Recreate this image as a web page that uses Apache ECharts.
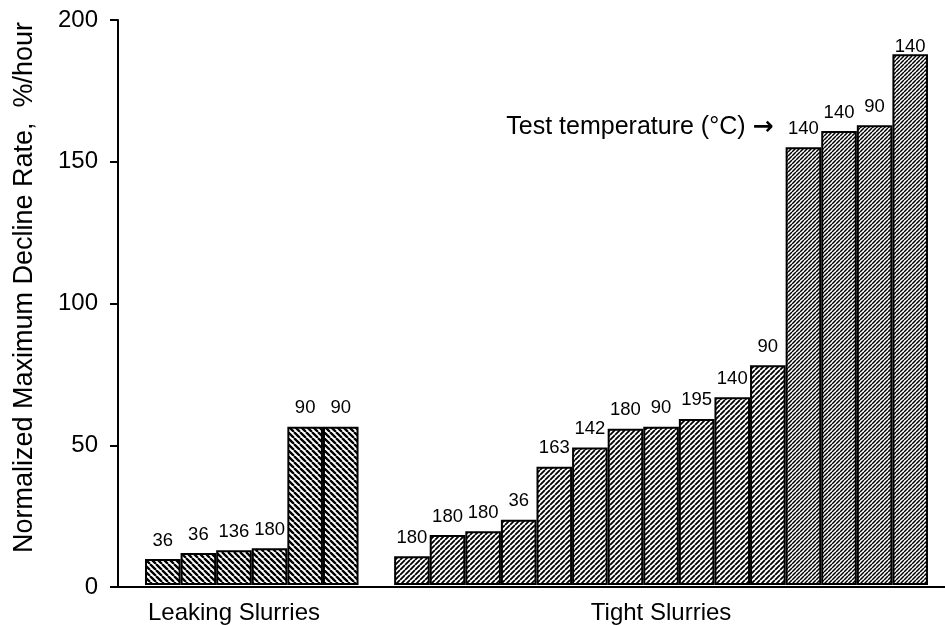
<!DOCTYPE html>
<html>
<head>
<meta charset="utf-8">
<script src="https://cdn.jsdelivr.net/npm/echarts@6/dist/echarts.min.js"></script>
<style>
  html, body { margin: 0; padding: 0; background: #fff; }
  #chart { width: 945px; height: 625px; }
</style>
</head>
<body>
<div id="chart"></div>
<script>
// Slots along the x axis: six leaking slurries, one spacer, fifteen tight slurries
const categories = ['L1', 'L2', 'L3', 'L4', 'L5', 'L6', '',
  'T1', 'T2', 'T3', 'T4', 'T5', 'T6', 'T7', 'T8', 'T9', 'T10', 'T11', 'T12', 'T13', 'T14', 'T15'];
const groupNames = ['Leaking Slurries', 'Tight Slurries'];

// Normalized maximum decline rate (%/hour) and test temperature (°C)
const leakingRates = [9.2, 11.3, 12.3, 13.0, 56.0, 56.0];
const leakingTemps = [36, 36, 136, 180, 90, 90];
const tightRates = [10.2, 17.7, 19.0, 23.1, 41.9, 48.7, 55.3, 56.0, 58.8, 66.5, 77.8, 155.0, 160.7, 162.7, 187.9];
const tightTemps = [180, 180, 180, 36, 163, 142, 180, 90, 195, 140, 90, 140, 140, 90, 140];

const yTicks = [0, 50, 100, 150, 200];
const axisTitle = 'Normalized Maximum Decline Rate,  %/hour';
const noteText = 'Test temperature (°C)';

const FONT = '"Liberation Sans", Arial, Helvetica, sans-serif';
const tightStart = leakingRates.length + 1;

// Diagonal hatch tile; dir > 0 draws "/", otherwise "\"
function hatch(period, width, dir) {
  const c = document.createElement('canvas');
  c.width = period; c.height = period;
  const g = c.getContext('2d');
  g.fillStyle = '#fff';
  g.fillRect(0, 0, period, period);
  g.strokeStyle = '#000';
  g.lineWidth = width;
  g.beginPath();
  for (let k = -1; k <= 1; k++) {
    if (dir > 0) { g.moveTo(k * period, period); g.lineTo(k * period + period, 0); }
    else { g.moveTo(k * period, 0); g.lineTo(k * period + period, period); }
  }
  g.stroke();
  return { image: c, repeat: 'repeat' };
}

const leakHatch = hatch(6, 2.3, -1);
const tightHatch = hatch(5, 1.8, 1);
const denseHatch = hatch(4, 1.5, 1);

const yMax = yTicks[yTicks.length - 1];
const yStep = yTicks[1] - yTicks[0];

const leakingData = categories.map((_, i) =>
  i < leakingRates.length ? leakingRates[i] : '-');
const tightData = categories.map((_, i) => {
  const j = i - tightStart;
  if (j < 0) return '-';
  const v = tightRates[j];
  if (v <= 100) return v;
  const item = { value: v, itemStyle: { color: denseHatch } };
  // a label near the top frame sits tight against its bar
  if (v > 0.9 * yMax) item.label = { distance: -2 };
  return item;
});

// Slot under the middle of each group carries the group name
const groupLabelAt = {};
groupLabelAt[Math.floor((leakingRates.length - 1) / 2)] = groupNames[0];
groupLabelAt[Math.floor((tightStart + categories.length - 1) / 2)] = groupNames[1];

const noteIndex = tightRates.findIndex(v => v > 100);

const frameLine = { show: true, lineStyle: { color: '#000', width: 2 } };
const tickLine = { color: '#000', width: 2 };

const GRID_LEFT = 118;
const CHART_W = 945;

const barLabel = {
  show: true, position: 'top', distance: 9,
  fontFamily: FONT, fontSize: 18.5, color: '#000'
};

const chart = echarts.init(document.getElementById('chart'), null, { renderer: 'canvas' });
chart.setOption({
  backgroundColor: '#fff',
  animation: false,
  grid: [
    { left: GRID_LEFT, right: 0, top: 20, bottom: 38 },
    { left: 145, right: 17, top: 20, bottom: 38 }
  ],
  xAxis: [
    { gridIndex: 0, type: 'value', min: 0, max: 1, position: 'bottom',
      axisLine: frameLine, axisTick: { show: false }, axisLabel: { show: false }, splitLine: { show: false } },
    { gridIndex: 0, type: 'value', min: 0, max: 1, position: 'top',
      axisLine: frameLine, axisTick: { show: false }, axisLabel: { show: false }, splitLine: { show: false } },
    { gridIndex: 1, type: 'category', data: categories,
      axisLine: { show: false }, axisTick: { show: false }, splitLine: { show: false },
      axisLabel: {
        interval: 0, margin: 16, fontFamily: FONT, fontSize: 24, color: '#000',
        formatter: (v, i) => groupLabelAt[i] || ''
      } }
  ],
  yAxis: [
    // main left axis: line, outward major ticks, labels, title
    { gridIndex: 0, type: 'value', position: 'left', min: 0, max: yMax, interval: yStep,
      axisLine: frameLine,
      axisTick: { show: true, length: 8, lineStyle: tickLine },
      axisLabel: { margin: 20, fontFamily: FONT, fontSize: 24, color: '#000' },
      splitLine: { show: false },
      name: axisTitle, nameLocation: 'middle', nameGap: 80,
      nameTextStyle: { fontFamily: FONT, fontSize: 27, color: '#000', padding: [0, 0, 0, 32] } },
    // mirrored axis placed on the same line so its ticks point into the plot
    { gridIndex: 0, type: 'value', position: 'right', offset: -(CHART_W - GRID_LEFT),
      min: 0, max: yMax, interval: yStep,
      axisLine: { show: false },
      axisTick: { show: true, length: 10, lineStyle: tickLine },
      minorTick: { show: true, splitNumber: 2, length: 8, lineStyle: tickLine },
      axisLabel: { show: false }, splitLine: { show: false } },
    { gridIndex: 1, type: 'value', min: 0, max: yMax, show: false }
  ],
  series: [
    { name: groupNames[0], type: 'bar', xAxisIndex: 2, yAxisIndex: 2,
      barCategoryGap: 0, barGap: '-100%', data: leakingData,
      itemStyle: { color: leakHatch, borderColor: '#000', borderWidth: 2 },
      label: Object.assign({}, barLabel, { formatter: p => leakingTemps[p.dataIndex] }) },
    { name: groupNames[1], type: 'bar', xAxisIndex: 2, yAxisIndex: 2,
      barCategoryGap: 0, barGap: '-100%', data: tightData,
      itemStyle: { color: tightHatch, borderColor: '#000', borderWidth: 2 },
      label: Object.assign({}, barLabel, { formatter: p => tightTemps[p.dataIndex - tightStart] }),
      markPoint: {
        symbol: 'circle', symbolSize: 0, silent: true,
        data: [{ coord: [categories[tightStart + noteIndex], tightRates[noteIndex]] }],
        label: {
          show: true, position: 'left', distance: 30, offset: [0, -20],
          formatter: noteText + ' {a|→}',
          fontFamily: FONT, fontSize: 25, color: '#000',
          rich: { a: { fontFamily: '"DejaVu Sans", sans-serif', fontSize: 25, fontWeight: 'bold', color: '#000' } }
        }
      } }
  ]
});
</script>
</body>
</html>
